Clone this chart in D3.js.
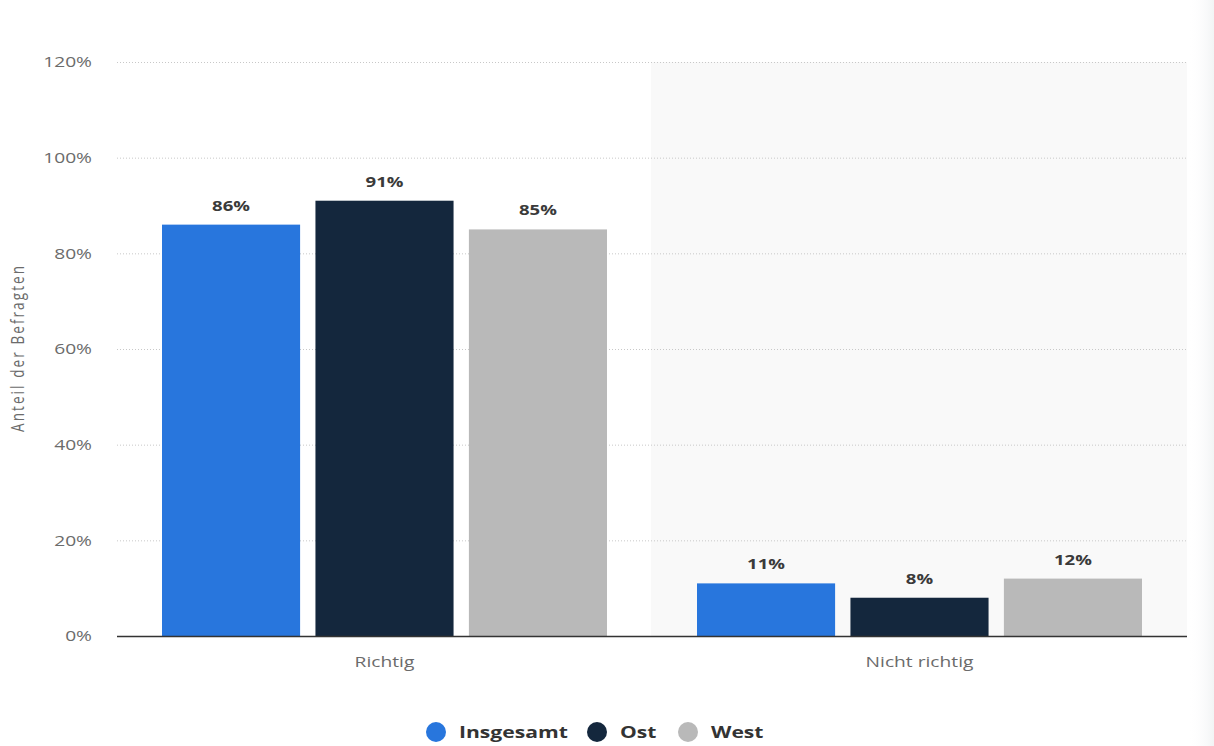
<!DOCTYPE html>
<html>
<head>
<meta charset="utf-8">
<script src="https://cdn.jsdelivr.net/npm/d3@7"></script>
<style>
  html, body { margin: 0; padding: 0; background: #fff; }
  svg { display: block; font-family: "Open Sans", "Noto Sans", sans-serif; }
</style>
</head>
<body>
<svg id="chart" width="1214" height="746"></svg>
<script>
// Umfragewerte: Anteil der Befragten je Antwort
const categories = ["Richtig", "Nicht richtig"];
const seriesNames = ["Insgesamt", "Ost", "West"];
const insgesamt = [86, 11];
const ost = [91, 8];
const west = [85, 12];
const tickValues = [0, 20, 40, 60, 80, 100, 120];
const colors = ["#2876dd", "#14273d", "#b9b9b9"];

const seriesValues = [insgesamt, ost, west];

// text is drawn slightly widened horizontally
const sx = 1.28;

const svg = d3.select("#chart");
const plotLeft = 117, plotRight = 1187, plotTop = 62, plotBottom = 636;

const y = d3.scaleLinear().domain([0, 120]).range([plotBottom, plotTop]);
const x0 = d3.scaleBand().domain(categories).range([plotLeft, plotRight]).padding(0);
const inner = 445;
const x1 = d3.scaleBand().domain(seriesNames).range([0, inner]).paddingInner(0.1);
const groupPad = (x0.bandwidth() - inner) / 2;

// shaded band behind the second category
svg.append("rect")
  .attr("x", x0(categories[1]) - 1)
  .attr("y", plotTop)
  .attr("width", x0.bandwidth() + 1)
  .attr("height", plotBottom - plotTop)
  .attr("fill", "#f9f9f9");

// faint shadow at the right edge
const grad = svg.append("defs").append("linearGradient").attr("id", "edge");
grad.append("stop").attr("offset", "0%").attr("stop-color", "#fff").attr("stop-opacity", 0);
grad.append("stop").attr("offset", "100%").attr("stop-color", "#f2f4f5").attr("stop-opacity", 1);
svg.append("rect").attr("x", 1188).attr("y", 0).attr("width", 26).attr("height", 746).attr("fill", "url(#edge)");

// gridlines
svg.append("g")
  .selectAll("line")
  .data(tickValues.filter(d => d > 0))
  .join("line")
  .attr("x1", plotLeft).attr("x2", plotRight)
  .attr("y1", d => y(d) + 0.5).attr("y2", d => y(d) + 0.5)
  .attr("stroke", "#c8c8c8")
  .attr("stroke-width", 1)
  .attr("stroke-dasharray", "1,2");

// y axis tick labels
const yAxis = d3.axisLeft(y).tickValues(tickValues).tickFormat(d => d + "%").tickSize(0).tickPadding(0);
const gy = svg.append("g").attr("transform", `translate(92,0)`).call(yAxis);
gy.select(".domain").remove();
gy.selectAll("text")
  .attr("x", 0)
  .attr("transform", `scale(${sx},1)`)
  .attr("fill", "#6b6b6b")
  .style("font-size", "15px")
  .style("font-family", "'Open Sans', sans-serif");

// axis title
svg.append("text")
  .attr("transform", `translate(18,349) scale(${sx},1) rotate(-90)`)
  .attr("text-anchor", "middle")
  .attr("dy", "0.35em")
  .attr("fill", "#6b6b6b")
  .attr("textLength", 166)
  .attr("lengthAdjust", "spacing")
  .style("font-size", "13.5px")
  .text("Anteil der Befragten");

// bars
const groups = svg.append("g")
  .selectAll("g")
  .data(categories)
  .join("g")
  .attr("transform", d => `translate(${x0(d) + groupPad},0)`);

groups.selectAll("rect")
  .data((c, i) => seriesNames.map((s, k) => ({ s, k, v: seriesValues[k][i] })))
  .join("rect")
  .attr("x", d => x1(d.s))
  .attr("y", d => y(d.v))
  .attr("width", x1.bandwidth())
  .attr("height", d => plotBottom - y(d.v))
  .attr("fill", d => colors[d.k]);

// value labels above the bars
groups.selectAll("text")
  .data((c, i) => seriesNames.map((s, k) => ({ s, k, v: seriesValues[k][i] })))
  .join("text")
  .attr("transform", d => `translate(${x1(d.s) + x1.bandwidth() / 2},${y(d.v) - 14}) scale(${sx},1)`)
  .attr("text-anchor", "middle")
  .attr("fill", "#3a3a3a")
  .style("font-size", "14.5px")
  .style("font-weight", "bold")
  .text(d => d.v + "%");

// baseline
svg.append("line")
  .attr("x1", plotLeft).attr("x2", plotRight)
  .attr("y1", plotBottom + 0.5).attr("y2", plotBottom + 0.5)
  .attr("stroke", "#333")
  .attr("stroke-width", 1.5);

// category labels
const xAxis = d3.axisBottom(x0).tickSize(0).tickPadding(0);
const gx = svg.append("g").attr("transform", `translate(0,${plotBottom + 20})`).call(xAxis);
gx.select(".domain").remove();
gx.selectAll("text")
  .attr("transform", `scale(${sx},1)`)
  .attr("fill", "#6b6b6b")
  .style("font-size", "15px")
  .style("font-family", "'Open Sans', sans-serif");

// legend
const legendX = [436, 597, 688];
const legend = svg.append("g")
  .selectAll("g")
  .data(seriesNames)
  .join("g")
  .attr("transform", (d, i) => `translate(${legendX[i]},732)`);
legend.append("circle").attr("r", 10).attr("fill", (d, i) => colors[i]);
legend.append("text")
  .attr("transform", `translate(23,0) scale(${sx},1)`)
  .attr("dy", "0.36em")
  .attr("fill", "#333")
  .style("font-size", "16.5px")
  .style("font-weight", "bold")
  .text(d => d);
</script>
</body>
</html>
